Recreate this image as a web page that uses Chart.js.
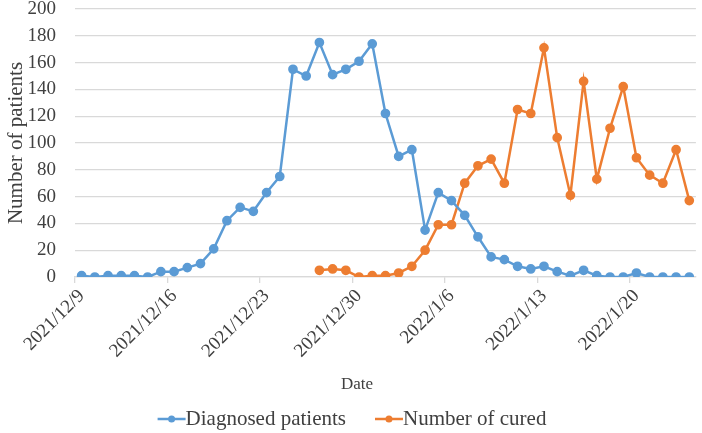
<!DOCTYPE html>
<html>
<head>
<meta charset="utf-8">
<script src="https://cdn.jsdelivr.net/npm/chart.js@4/dist/chart.umd.min.js"></script>
<style>
  html, body { margin: 0; padding: 0; background: #fff; }
  #wrap { width: 702px; height: 433px; }
</style>
</head>
<body>
<div id="wrap"><canvas id="chart"></canvas></div>
<script>
const dates = [
  '2021/12/9','2021/12/10','2021/12/11','2021/12/12','2021/12/13','2021/12/14','2021/12/15',
  '2021/12/16','2021/12/17','2021/12/18','2021/12/19','2021/12/20','2021/12/21','2021/12/22',
  '2021/12/23','2021/12/24','2021/12/25','2021/12/26','2021/12/27','2021/12/28','2021/12/29',
  '2021/12/30','2021/12/31','2022/1/1','2022/1/2','2022/1/3','2022/1/4','2022/1/5',
  '2022/1/6','2022/1/7','2022/1/8','2022/1/9','2022/1/10','2022/1/11','2022/1/12',
  '2022/1/13','2022/1/14','2022/1/15','2022/1/16','2022/1/17','2022/1/18','2022/1/19',
  '2022/1/20','2022/1/21','2022/1/22','2022/1/23','2022/1/24'
];
const diagnosed = [
  1,0,1,1,1,0,4,
  4,7,10,21,42,52,49,
  63,75,155,150,175,151,155,
  161,174,122,90,95,35,63,
  57,46,30,15,13,8,6,
  8,4,1,5,1,0,0,
  3,0,0,0,0
];
const cured = [
  null,null,null,null,null,null,null,
  null,null,null,null,null,null,null,
  null,null,null,null,5,6,5,
  0,1,1,3,8,20,39,
  39,70,83,88,70,125,122,
  171,104,61,146,73,111,142,
  89,76,70,95,57
];
const yMax = 200, yStep = 20;

const blue = '#5B9BD5', orange = '#ED7D31';
const textColor = '#404040';
const serif = "'Liberation Serif', 'DejaVu Serif', serif";

// x axis title and Excel-style legend, drawn under the rotated date labels
const bottomTexts = {
  id: 'bottomTexts',
  afterDraw(chart) {
    const ctx = chart.ctx;
    ctx.save();
    ctx.fillStyle = textColor;
    ctx.textBaseline = 'middle';
    ctx.font = '17px ' + serif;
    ctx.textAlign = 'center';
    ctx.fillText('Date', 357, 385);

    ctx.font = '21px ' + serif;
    ctx.textAlign = 'left';
    const mark = 28, gap = 29, y = 419;
    const items = chart.data.datasets.map(ds => ({ text: ds.label, color: ds.borderColor, w: ctx.measureText(ds.label).width }));
    const total = items.reduce((s, it) => s + mark + it.w, 0) + gap * (items.length - 1);
    let x = chart.width / 2 + 1 - total / 2;
    items.forEach(it => {
      ctx.strokeStyle = it.color; ctx.lineWidth = 2.5;
      ctx.beginPath(); ctx.moveTo(x, y); ctx.lineTo(x + mark, y); ctx.stroke();
      ctx.fillStyle = it.color;
      ctx.beginPath(); ctx.arc(x + mark / 2, y, 3.5, 0, Math.PI * 2); ctx.fill();
      ctx.fillStyle = textColor;
      ctx.fillText(it.text, x + mark, y);
      x += mark + it.w + gap;
    });
    ctx.restore();
  }
};

new Chart(document.getElementById('chart'), {
  type: 'line',
  data: {
    labels: dates,
    datasets: [
      { label: 'Diagnosed patients', data: diagnosed, borderColor: blue, backgroundColor: blue,
        borderWidth: 2.5, pointRadius: 3.6, pointHoverRadius: 3.6, tension: 0 },
      { label: 'Number of cured', data: cured, borderColor: orange, backgroundColor: orange,
        borderWidth: 2.5, pointRadius: 3.6, pointHoverRadius: 3.6, tension: 0 }
    ]
  },
  options: {
    responsive: true,
    maintainAspectRatio: false,
    animation: false,
    layout: { padding: { top: 0, right: 0, left: 4, bottom: 0 } },
    plugins: {
      tooltip: { enabled: false },
      legend: { display: false }
    },
    scales: {
      x: {
        offset: true,
        afterFit: s => { s.height = 156; s.paddingLeft = 0; s.paddingRight = 0; },
        grid: {
          offset: true,
          drawOnChartArea: false,
          drawTicks: true,
          tickLength: 6,
          lineWidth: 1.3,
          color: ctx => (ctx.index % 7 === 0 ? '#d9d9d9' : 'rgba(0,0,0,0)')
        },
        border: { display: true, color: '#d9d9d9', width: 1.3 },
        ticks: {
          autoSkip: false,
          maxRotation: 45,
          minRotation: 45,
          padding: 2,
          color: textColor,
          font: { family: serif, size: 19 },
          callback: function(v, i){ return i % 7 === 0 ? this.getLabelForValue(v) : ''; }
        }
      },
      y: {
        min: 0, max: yMax,
        afterFit: s => { s.width = 71; s.paddingTop = 9; s.paddingBottom = 0; },
        grid: { color: '#d9d9d9', lineWidth: 1.3, drawTicks: false },
        border: { display: false },
        ticks: {
          stepSize: yStep, autoSkip: false, padding: 19, color: textColor,
          font: { family: serif, size: 19 }
        },
        title: {
          display: true, text: 'Number of patients', color: textColor,
          font: { family: serif, size: 21 }, padding: { top: 0, bottom: 0 }
        }
      }
    }
  },
  plugins: [bottomTexts]
});
</script>
</body>
</html>
